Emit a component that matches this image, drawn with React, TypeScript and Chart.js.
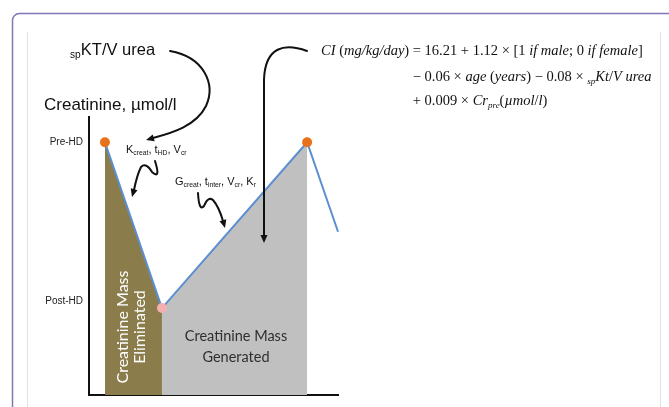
import React, { useEffect, useRef } from "react";
import { Chart, registerables } from "chart.js";

Chart.register(...registerables);

// ---- data (conceptual diagram: creatinine over one dialysis cycle) ----
const timepoints = [0.64, 2.93, 8.76, 10];
const creatinine = [100, 34.4, 100, 64.6];
const pointColors = ["#E8711C", "#F3B0AE", "#E8711C", "rgba(0,0,0,0)"];
const pointRadii = [5, 5, 5, 0];
const eliminatedIdx = [0, 1];
const generatedIdx = [1, 2];
const tickValues = [37, 100];
const tickLabels = ["Post-HD", "Pre-HD"];

type Run = { t: string; i?: boolean; sub?: boolean };

function drawRuns(
  ctx: CanvasRenderingContext2D,
  runs: Run[],
  x: number,
  y: number,
  family: string,
  size: number,
  draw = true
): number {
  let cx = x;
  for (const r of runs) {
    const s = r.sub ? size * 0.62 : size;
    ctx.font = `${r.i ? "italic " : ""}${s}px ${family}`;
    if (draw) ctx.fillText(r.t, cx, y + (r.sub ? size * 0.32 : 0));
    cx += ctx.measureText(r.t).width;
  }
  return cx - x;
}

function arrowHead(ctx: CanvasRenderingContext2D, tx: number, ty: number, fx: number, fy: number, len = 8, w = 7) {
  const a = Math.atan2(ty - fy, tx - fx);
  ctx.beginPath();
  ctx.moveTo(tx, ty);
  ctx.lineTo(tx - len * Math.cos(a) + (w / 2) * Math.sin(a), ty - len * Math.sin(a) - (w / 2) * Math.cos(a));
  ctx.lineTo(tx - len * Math.cos(a) - (w / 2) * Math.sin(a), ty - len * Math.sin(a) + (w / 2) * Math.cos(a));
  ctx.closePath();
  ctx.fill();
}

const SANS = "'Liberation Sans', Arial, sans-serif";
const SERIF = "'Liberation Serif', 'Times New Roman', serif";
const CAL = "Lato, 'Open Sans', sans-serif";

const framePlugin = {
  id: "frame",
  beforeDraw(chart: any) {
    const ctx = chart.ctx as CanvasRenderingContext2D;
    ctx.save();
    ctx.fillStyle = "#ffffff";
    ctx.fillRect(0, 0, chart.width, chart.height);
    // outer rounded frame
    ctx.strokeStyle = "#7F78B6";
    ctx.lineWidth = 1.5;
    const r = 7;
    ctx.beginPath();
    ctx.moveTo(12.5, chart.height + 2);
    ctx.lineTo(12.5, 13.5 + r);
    ctx.arcTo(12.5, 13.5, 12.5 + r, 13.5, r);
    ctx.lineTo(chart.width + 2, 13.5);
    ctx.stroke();
    // inner image edges
    ctx.strokeStyle = "#E2E2E2";
    ctx.lineWidth = 1;
    ctx.beginPath();
    ctx.moveTo(27.5, 32);
    ctx.lineTo(27.5, chart.height);
    ctx.moveTo(660.5, 32);
    ctx.lineTo(660.5, chart.height);
    ctx.stroke();
    ctx.restore();
  },
};

const annotationPlugin = {
  id: "annot",
  afterDraw(chart: any) {
    const ctx = chart.ctx as CanvasRenderingContext2D;
    ctx.save();
    ctx.fillStyle = "#111";
    ctx.textBaseline = "middle";
    ctx.textAlign = "left";

    // axis title
    ctx.font = `17px ${SANS}`;
    ctx.fillText("Creatinine, µmol/l", 44, 105);

    // spKT/V urea
    drawRuns(ctx, [{ t: "sp", sub: true }, { t: "KT/V urea" }], 70, 50, SANS, 16.5);

    // Kcreat, tHD, Vcr
    drawRuns(
      ctx,
      [{ t: "K" }, { t: "creat", sub: true }, { t: ", t" }, { t: "HD", sub: true }, { t: ", V" }, { t: "cr", sub: true }],
      126, 150, SANS, 11
    );
    // Gcreat, tinter, Vcr, Kr
    drawRuns(
      ctx,
      [{ t: "G" }, { t: "creat", sub: true }, { t: ", t" }, { t: "inter", sub: true }, { t: ", V" }, { t: "cr", sub: true }, { t: ", K" }, { t: "r", sub: true }],
      175, 182, SANS, 11
    );

    // equation
    const eqSize = 14.5;
    const prefix: Run[] = [{ t: "CI", i: true }, { t: " (" }, { t: "mg/kg/day", i: true }, { t: ") " }];
    const x0 = 321;
    const pw = drawRuns(ctx, prefix, x0, 51, SERIF, eqSize);
    const xe = x0 + pw;
    drawRuns(
      ctx,
      [{ t: "= 16.21 + 1.12 × [1 " }, { t: "if male", i: true }, { t: "; 0 " }, { t: "if female", i: true }, { t: "]" }],
      xe, 51, SERIF, eqSize
    );
    drawRuns(
      ctx,
      [
        { t: "− 0.06 × " }, { t: "age", i: true }, { t: " (" }, { t: "years", i: true }, { t: ") − 0.08 × " },
        { t: "sp", i: true, sub: true }, { t: "Kt", i: true }, { t: "/" }, { t: "V urea", i: true },
      ],
      xe, 77, SERIF, eqSize
    );
    drawRuns(
      ctx,
      [{ t: "+ 0.009 × " }, { t: "Cr", i: true }, { t: "pre", i: true, sub: true }, { t: "(" }, { t: "µmol", i: true }, { t: "/" }, { t: "l", i: true }, { t: ")" }],
      xe, 101, SERIF, eqSize
    );

    // region labels
    ctx.textAlign = "center";
    ctx.fillStyle = "#2F2F2F";
    ctx.font = `14.5px ${CAL}`;
    ctx.fillText("Creatinine Mass", 236, 336);
    ctx.fillText("Generated", 236, 357);

    ctx.save();
    ctx.translate(131.5, 327);
    ctx.rotate(-Math.PI / 2);
    ctx.fillStyle = "#FFFFFF";
    ctx.font = `16px ${CAL}`;
    ctx.fillText("Creatinine Mass", 0, -8.5);
    ctx.fillText("Eliminated", 0, 8.5);
    ctx.restore();

    // arrows
    ctx.strokeStyle = "#111";
    ctx.fillStyle = "#111";
    ctx.lineWidth = 2;
    ctx.lineCap = "round";

    // spKT/V -> K
    ctx.beginPath();
    ctx.moveTo(170, 51);
    ctx.bezierCurveTo(204, 57, 216, 84, 206, 106);
    ctx.bezierCurveTo(196, 126, 172, 133, 153, 138);
    ctx.stroke();
    arrowHead(ctx, 146, 140, 160, 136);

    // squiggle under K
    ctx.beginPath();
    ctx.moveTo(155, 161);
    ctx.quadraticCurveTo(161, 180, 152, 172);
    ctx.quadraticCurveTo(146, 162, 141, 167);
    ctx.quadraticCurveTo(137, 175, 134, 190);
    ctx.stroke();
    arrowHead(ctx, 132, 197, 135, 186);

    // squiggle under G
    ctx.beginPath();
    ctx.moveTo(198, 193);
    ctx.quadraticCurveTo(199, 212, 204, 206);
    ctx.quadraticCurveTo(208, 196, 213, 200);
    ctx.quadraticCurveTo(219, 207, 223, 221);
    ctx.stroke();
    arrowHead(ctx, 225, 228, 222, 217);

    // CI equation -> generated area
    ctx.beginPath();
    ctx.moveTo(307, 51);
    ctx.bezierCurveTo(285, 43, 265, 46, 264, 80);
    ctx.lineTo(264, 235);
    ctx.stroke();
    arrowHead(ctx, 264, 243, 264, 230);

    ctx.restore();
  },
};

export default function App() {
  const ref = useRef<HTMLCanvasElement>(null);
  useEffect(() => {
    const pts = (idx: number[]) => idx.map((i) => ({ x: timepoints[i], y: creatinine[i] }));
    const chart = new Chart(ref.current!, {
      type: "line",
      data: {
        datasets: [
          {
            data: timepoints.map((x, i) => ({ x, y: creatinine[i] })),
            borderColor: "#5B8FD2",
            borderWidth: 2,
            pointRadius: pointRadii,
            pointBackgroundColor: pointColors,
            pointBorderWidth: 0,
            pointBorderColor: "rgba(0,0,0,0)",
            tension: 0,
            fill: false,
            clip: false,
          } as any,
          {
            data: pts(eliminatedIdx),
            borderWidth: 0,
            pointRadius: 0,
            backgroundColor: "#8B7D4B",
            fill: "origin",
            tension: 0,
          },
          {
            data: pts(generatedIdx),
            borderWidth: 0,
            pointRadius: 0,
            backgroundColor: "#C0C0C0",
            fill: "origin",
            tension: 0,
          },
        ],
      },
      options: {
        responsive: false,
        animation: false,
        devicePixelRatio: 1,
        layout: { padding: { top: 117, right: 331, bottom: 9, left: 0 } },
        plugins: { legend: { display: false }, tooltip: { enabled: false }, title: { display: false } },
        scales: {
          x: {
            type: "linear",
            min: 0,
            max: 10,
            grid: { display: false, drawTicks: false },
            ticks: { display: false },
            border: { display: true, color: "#111", width: 2 },
            afterFit: (s: any) => {
              s.height = 0;
            },
          },
          y: {
            type: "linear",
            min: 0,
            max: 110,
            grid: { display: false, drawTicks: false },
            border: { display: true, color: "#111", width: 2 },
            afterBuildTicks: (s: any) => {
              s.ticks = tickValues.map((v) => ({ value: v }));
            },
            ticks: {
              padding: 6,
              autoSkip: false,
              color: "#222",
              font: { family: SANS, size: 10 },
              callback: (v: any) => {
                const k = tickValues.indexOf(Number(v));
                return k >= 0 ? tickLabels[k] : "";
              },
            },
            afterFit: (s: any) => {
              s.width = 89;
            },
          },
        },
      } as any,
      plugins: [framePlugin, annotationPlugin],
    });
    return () => chart.destroy();
  }, []);
  return (
    <div style={{ position: "absolute", left: 0, top: 0, width: 669, height: 407, background: "#fff" }}>
      <canvas ref={ref} width={669} height={407} style={{ display: "block", width: 669, height: 407 }} />
    </div>
  );
}
